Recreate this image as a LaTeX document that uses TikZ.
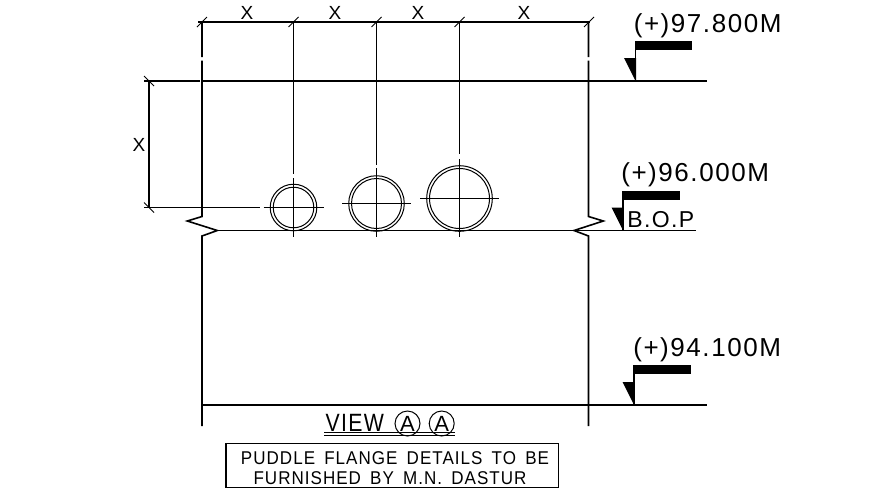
\documentclass[tikz,border=0pt]{standalone}
\usepackage{fontspec}
\newfontfamily\cadfont[LetterSpace=6,WordSpace=1.6]{Liberation Sans}
\usetikzlibrary{positioning, shapes.geometric}

\begin{document}
\begin{tikzpicture}[
    x = 1pt, y = -1pt,
    line width = 1.6pt,
    dimtick/.style = {line width = 1pt},
    levelbar/.style = {fill = black, draw = none},
    leveltext/.style = {anchor = base west, inner sep = 0pt, font = \cadfont\fontsize{26}{26}\selectfont},
    dimtext/.style = {inner sep = 0pt, font = \cadfont\fontsize{19}{19}\selectfont},
    notetext/.style = {inner sep = 0pt, anchor = base, xscale = 0.92, transform shape, font = \cadfont\fontsize{18.5}{20}\selectfont},
    viewcircle/.style = {circle, draw, line width = 1pt, minimum size = 25pt, inner sep = 0pt, font = \cadfont\fontsize{22}{22}\selectfont}
    ]

    \useasboundingbox (0,0) rectangle (888,496);
    \fill[white] (0,0) rectangle (888,496);

    % dimension lines
    \draw (198,22) -- (590,22);
    \draw (149,81) -- (149,207.5);
    \foreach \tx in {202,293.5,376.5,459.5,589}
        \draw[dimtick] (\tx-5,27) -- (\tx+5,17);
    \foreach \ty in {81,207.5}
        \draw[dimtick] (144,\ty-5) -- (154,\ty+5);
    \foreach \tx/\tname in {247/a,335/b,418/c,524/d}
        \node[dimtext] (x\tname) at (\tx,13) {X};
    \node[dimtext] (xv) at (139,144.5) {X};

    % wall outline with breaks
    \draw (202,22) -- (202,57) (202,60.5) -- (202,216.5) -- (187.3,221) -- (217.3,230.5) -- (202,236) -- (202,426);
    \draw (588.5,22) -- (588.5,57) (588.5,60.5) -- (588.5,216.5) -- (603.3,221) -- (574,230.5) -- (588.5,236) -- (588.5,426);

    % levels
    \draw (144,81) -- (199.5,81) (203,81) -- (707,81);
    \draw (217,230.5) -- (696,230.5);
    \draw (202,405) -- (707,405);

    % pipes
    \draw (144,207.5) -- (260,207.5);
    \foreach \cx/\cy/\ro/\ri/\hl/\vt/\lt in {
        293.5/207.5/23.3/20.3/30/178/174,
        376.5/203.5/27.8/25/34.5/168/165,
        459.5/198.5/32.8/30/39.5/159/154} {
        \draw[line width = 1pt] (\cx,\cy) circle (\ro) (\cx,\cy) circle (\ri);
        \draw (\cx-\hl,\cy) -- (\cx+\hl,\cy);
        \draw (\cx,\vt) -- (\cx,237);
        \draw (\cx,22) -- (\cx,\lt);
    }

    % level marks
    \foreach \mx/\my/\mb in {635.5/81/41, 623/230.5/191, 634/405/365} {
        \draw (\mx,\my) -- (\mx,\mb);
        \fill[levelbar] (\mx-0.6,\mb) rectangle (\mx+56.5,\mb+9);
        \fill[levelbar] (\mx-11.5,\my-23) -- (\mx+0.5,\my-23) -- (\mx+0.5,\my) -- (\mx,\my) -- cycle;
    }
    \node[leveltext] (top) at (633,32.5) {(+)97.800M};
    \node[leveltext] (bop) at (620.5,181.5) {(+)96.000M};
    \node[leveltext] (low) at (632.5,356) {(+)94.100M};
    \node[leveltext, font = \cadfont\fontsize{23}{23}\selectfont] (boptext) at (626.5,227.5) {B.O.P};

    % title
    \node[leveltext, xscale = 0.85, transform shape, font = \cadfont\fontsize{25}{25}\selectfont] (view) at (325,431.5) {VIEW};
    \node[viewcircle] (a1) at (407.5,423.5) {A};
    \node[viewcircle] (a2) at (441.7,423.5) {A};
    \draw[line width = 1pt] (324,432.7) -- (455,432.7) (324,435.2) -- (455,435.2);

    % note
    \node[draw, line width = 1.3pt, minimum width = 332.5pt, minimum height = 44pt, inner sep = 0pt] (notebox) at (392.3,465.3) {};
    \node[notetext] (line1) at (395,464) {PUDDLE FLANGE DETAILS TO BE};
    \node[notetext] (line2) at (390,484) {FURNISHED BY M.N. DASTUR};

\end{tikzpicture}
\end{document}
